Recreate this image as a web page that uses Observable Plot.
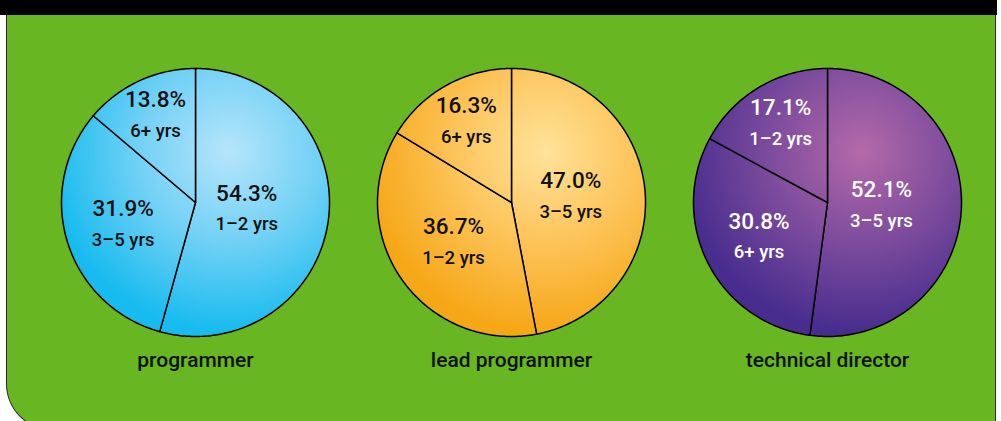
<!DOCTYPE html>
<html><head><meta charset="utf-8">
<script src="https://cdn.jsdelivr.net/npm/d3@7"></script>
<script src="https://cdn.jsdelivr.net/npm/@observablehq/plot@0.6"></script>
<style>
html,body{margin:0;padding:0;background:#fff;width:1001px;height:421px;overflow:hidden;position:relative;}
#band{position:absolute;left:0;top:0;width:997px;height:15px;background:#000;}
#panel{position:absolute;left:6px;top:15px;width:988px;height:414px;background:#67b622;border-left:1.5px solid #2b2b2b;border-right:1.5px solid #2b2b2b;border-bottom:1.5px solid #2b2b2b;border-bottom-left-radius:46px;}
#chart{position:absolute;left:0;top:0;}
</style></head><body>
<div id="band"></div><div id="panel"></div><div id="chart"></div>
<script>
// ---- data (slices listed clockwise from 12 o'clock) ----
const charts = ["programmer", "lead programmer", "technical director"];
const programmerLabels = ["1–2 yrs", "3–5 yrs", "6+ yrs"];
const programmerValues = [54.3, 31.9, 13.8];
const leadLabels = ["3–5 yrs", "1–2 yrs", "6+ yrs"];
const leadValues = [47.0, 36.7, 16.3];
const directorLabels = ["3–5 yrs", "6+ yrs", "1–2 yrs"];
const directorValues = [52.1, 30.8, 17.1];

// ---- styles ----
const gradientStops = [
  ["#b6e5fb", "#72d1f5", "#17bbef"],
  ["#fee39a", "#fdc45a", "#f6a717"],
  ["#b46aa9", "#7e4c9d", "#482d8e"]
];
const inkColors = ["#111", "#111", "#fff"];
const FONT = 'Roboto, "Noto Sans", sans-serif';

const series = [
  {labels: programmerLabels, values: programmerValues},
  {labels: leadLabels, values: leadValues},
  {labels: directorLabels, values: directorValues}
].map((s, i) => ({...s, chart: charts[i], index: i}));

const slices = [];
const labelRows = [];
for (const s of series) {
  const total = d3.sum(s.values);
  const arcs = d3.pie().sort(null).value(d => d)(s.values);
  arcs.forEach((a, i) => {
    const key = s.chart + "-" + i;
    const span = a.endAngle - a.startAngle;
    const n = Math.max(2, Math.ceil(span / (Math.PI / 180)));
    slices.push({chart: s.chart, key, g: s.index, x: 0, y: 0});
    for (let k = 0; k <= n; k++) {
      const t = a.startAngle + span * k / n;
      slices.push({chart: s.chart, key, g: s.index, x: Math.sin(t), y: Math.cos(t)});
    }
    slices.push({chart: s.chart, key, g: s.index, x: 0, y: 0});
    const f = a.value / total;
    const mid = (a.startAngle + a.endAngle) / 2;
    const r = 0.82 - 0.8 * f;
    labelRows.push({
      chart: s.chart,
      pct: a.value.toFixed(1) + "%",
      label: s.labels[i],
      x: r * Math.sin(mid),
      y: r * Math.cos(mid),
      ink: inkColors[s.index]
    });
  });
}

const plot = Plot.plot({
  width: 1001,
  height: 421,
  marginLeft: 60,
  marginRight: 40,
  marginTop: 68,
  marginBottom: 85,
  style: {background: "transparent", fontFamily: FONT, color: "#111", overflow: "visible"},
  fx: {domain: charts, paddingInner: 0.1532, paddingOuter: 0, label: null},
  x: {domain: [-1, 1], axis: null},
  y: {domain: [-1, 1], axis: null},
  color: {type: "identity"},
  marks: [
    Plot.line(slices, {
      fx: "chart", x: "x", y: "y", z: "key",
      fill: d => `url(#grad-${d.g})`,
      stroke: "#000", strokeWidth: 1.5, strokeLinejoin: "round", curve: "linear"
    }),
    Plot.text(labelRows, {
      fx: "chart", x: "x", y: "y", text: "pct", fill: "ink",
      fontSize: 22.5, fontWeight: 500, dy: -16, fontFamily: FONT, letterSpacing: "-0.8px"
    }),
    Plot.text(labelRows, {
      fx: "chart", x: "x", y: "y", text: "label", fill: "ink",
      fontSize: 18.5, fontWeight: 500, dy: 15, fontFamily: FONT, letterSpacing: "-0.2px"
    }),
    Plot.axisFx({anchor: "bottom", tickSize: 0, tickPadding: 16, fontSize: 21, fontWeight: 500, label: null, fontFamily: FONT})
  ]
});

// radial gradients positioned through the plot's own scales
const xs = plot.scale("x"), ys = plot.scale("y");
const cx = xs.apply(0.25), cy = ys.apply(0.38), rr = xs.apply(1.35) - xs.apply(0);
const ns = "http://www.w3.org/2000/svg";
const defs = document.createElementNS(ns, "defs");
gradientStops.forEach((stops, i) => {
  const g = document.createElementNS(ns, "radialGradient");
  g.setAttribute("id", `grad-${i}`);
  g.setAttribute("gradientUnits", "userSpaceOnUse");
  g.setAttribute("cx", cx); g.setAttribute("cy", cy); g.setAttribute("r", rr);
  stops.forEach((c, k) => {
    const st = document.createElementNS(ns, "stop");
    st.setAttribute("offset", k / (stops.length - 1));
    st.setAttribute("stop-color", c);
    g.appendChild(st);
  });
  defs.appendChild(g);
});
plot.insertBefore(defs, plot.firstChild);
document.getElementById("chart").appendChild(plot);
</script>
</body></html>
